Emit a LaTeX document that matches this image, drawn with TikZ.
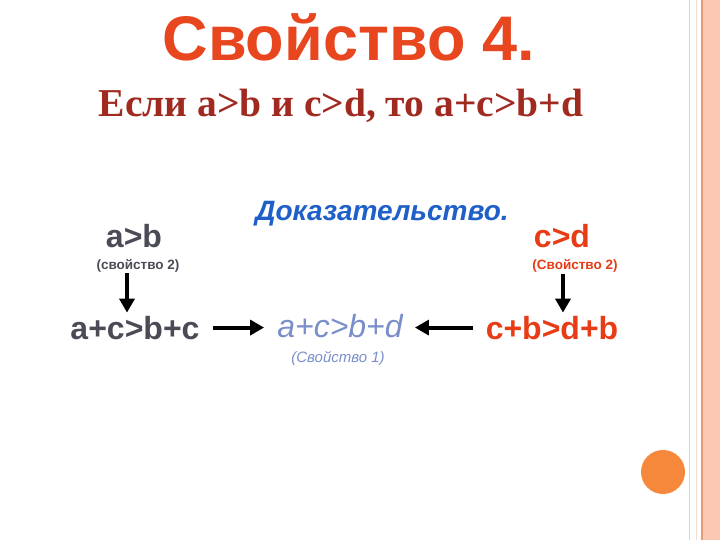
\documentclass[tikz,border=0pt]{standalone}
\usepackage{fontspec}
\setmainfont{Liberation Serif}
\setsansfont{Liberation Sans}
\usetikzlibrary{arrows.meta}
\definecolor{titleor}{HTML}{E8461E}
\definecolor{subred}{HTML}{A02A20}
\definecolor{proofblue}{HTML}{1F5FC8}
\definecolor{slate}{HTML}{4A4B55}
\definecolor{lblue}{HTML}{7A8FCA}
\definecolor{redor}{HTML}{E83C16}
\definecolor{stripe}{HTML}{FCC8B4}
\definecolor{stripeline}{HTML}{E89A78}
\definecolor{thinline}{HTML}{EBCDBE}
\definecolor{dotor}{HTML}{F5883A}
\tikzset{
  big/.style={font=\sffamily\bfseries\fontsize{32bp}{36bp}\selectfont, inner sep=0pt, anchor=base},
  small/.style={font=\sffamily\bfseries\fontsize{13.5bp}{16bp}\selectfont, inner sep=0pt, anchor=base},
  arr/.style={line width=4bp, -{Triangle[width=15bp,length=14bp]}, black},
}
\begin{document}
\begin{tikzpicture}[x=1bp,y=-1bp]
\useasboundingbox (0,0) rectangle (720,540);
\fill[white] (0,0) rectangle (720,540);
% right decoration
\fill[stripe] (701,0) rectangle (720,540);
\draw[stripeline, line width=1.2bp] (702,0) -- (702,540);
\draw[thinline, line width=1.2bp] (689.5,0) -- (689.5,540);
\draw[thinline!70, line width=1bp] (696.5,0) -- (696.5,540);
\fill[dotor] (663,472) circle (22);
% title
\node[font=\sffamily\bfseries\fontsize{63bp}{70bp}\selectfont, text=titleor, inner sep=0pt, anchor=base] (title) at (349,61) {Свойство 4.};
% subtitle
\node[font=\bfseries\fontsize{39.5bp}{44bp}\selectfont, text=subred, inner sep=0pt, anchor=base] (sub) at (341,117) {Если a>b и c>d, то a+c>b+d};
% proof heading
\node[font=\sffamily\bfseries\itshape\fontsize{28bp}{31bp}\selectfont, text=proofblue, inner sep=0pt, anchor=base] (proof) at (382,221) {Доказательство.};
% left column
\node[big, text=slate] (ab) at (134,248) {a>b};
\node[small, text=slate] (p2a) at (138,270) {(свойство 2)};
\node[big, text=slate] (acbc) at (135,339) {a+c>b+c};
% right column
\node[big, text=redor] (cd) at (562,248) {c>d};
\node[small, text=redor] (p2c) at (575,270) {(Свойство 2)};
\node[big, text=redor] (cbdb) at (552,339) {c+b>d+b};
% middle
\node[font=\sffamily\itshape\fontsize{32bp}{36bp}\selectfont, text=lblue, inner sep=0pt, anchor=base] (acbd) at (340,337) {a+c>b+d};
\node[font=\sffamily\itshape\fontsize{15bp}{17bp}\selectfont, text=lblue, inner sep=0pt, anchor=base] (p1) at (338,362) {(Свойство 1)};
% arrows
\coordinate (d1) at (127,0);
\coordinate (d2) at (563,0);
\draw[arr, shorten <=0bp, shorten >=3bp] (p2a.south -| d1) -- (acbc.north -| d1);
\draw[arr, shorten <=1bp, shorten >=3bp] (p2c.south -| d2) -- (cbdb.north -| d2);
\draw[arr, shorten <=13bp, shorten >=13bp] (acbc.east) -- (acbd.west |- acbc.east);
\draw[arr, shorten <=13bp, shorten >=12bp] (cbdb.west) -- (acbd.east |- cbdb.west);
\end{tikzpicture}
\end{document}
